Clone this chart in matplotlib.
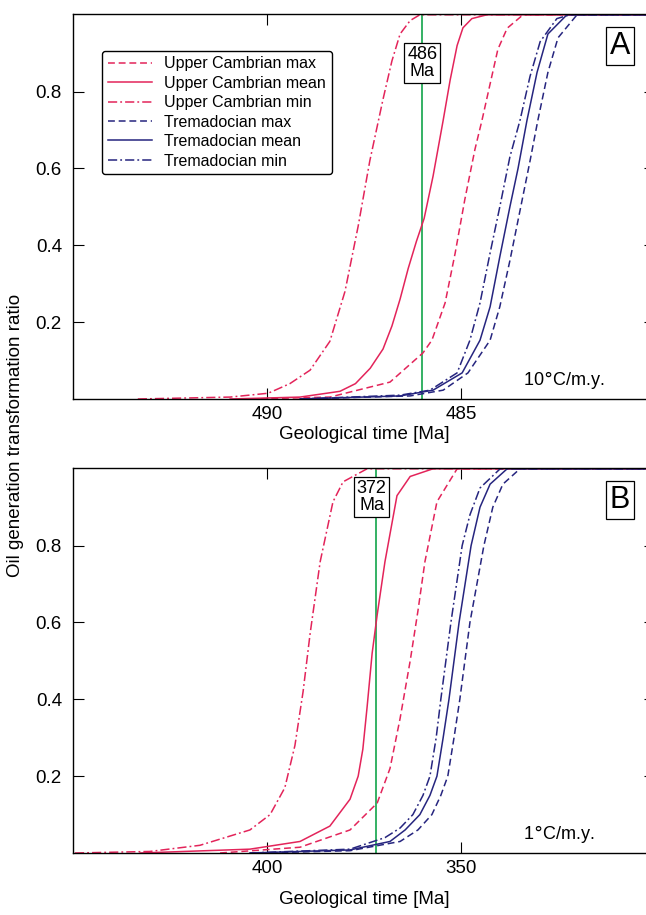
import numpy as np
from matplotlib import pyplot as plt

plt.rcParams['font.family'] = ['Liberation Sans', 'DejaVu Sans']

# ---- panel A (10 C/m.y.) : time [Ma], transformation ratio
a_ucmax_x = [490.44, 488.38, 486.83, 485.98, 485.75, 485.41, 485.15, 484.90, 484.64, 484.46, 484.25, 484.05, 483.81, 483.40, 480.0]
a_ucmax_y = [0, 0.005, 0.044, 0.12, 0.153, 0.25, 0.38, 0.52, 0.65, 0.725, 0.82, 0.91, 0.965, 1.0, 1.0]
a_ucmean_x = [490.95, 489.15, 488.12, 487.72, 487.34, 487.01, 486.78, 486.57, 486.36, 486.15, 485.95, 485.72, 485.46, 485.28, 485.10, 484.95, 484.72, 484.33, 480.0]
a_ucmean_y = [0, 0.005, 0.02, 0.04, 0.08, 0.13, 0.19, 0.26, 0.34, 0.41, 0.47, 0.58, 0.725, 0.83, 0.92, 0.966, 0.99, 1.0, 1.0]
a_ucmin_x = [493.33, 490.95, 489.97, 489.41, 488.89, 488.38, 487.99, 487.65, 487.35, 487.01, 486.78, 486.57, 486.31, 486.06, 480.0]
a_ucmin_y = [0, 0.005, 0.015, 0.04, 0.075, 0.15, 0.28, 0.45, 0.62, 0.78, 0.88, 0.95, 0.985, 1.0, 1.0]
a_trmax_x = [489.15, 486.31, 485.46, 484.82, 484.25, 484.00, 483.74, 483.48, 483.22, 483.02, 482.76, 482.50, 482.01, 480.0]
a_trmax_y = [0, 0.008, 0.023, 0.068, 0.153, 0.24, 0.36, 0.49, 0.62, 0.725, 0.85, 0.94, 1.0, 1.0]
a_trmean_x = [489.15, 486.57, 485.72, 484.97, 484.51, 484.25, 484.00, 483.74, 483.53, 483.30, 483.04, 482.76, 482.27, 480.0]
a_trmean_y = [0, 0.008, 0.023, 0.068, 0.153, 0.24, 0.37, 0.5, 0.6, 0.725, 0.85, 0.95, 1.0, 1.0]
a_trmin_x = [489.15, 486.57, 485.80, 485.10, 484.77, 484.51, 484.25, 484.00, 483.74, 483.48, 483.22, 482.96, 482.53, 482.19, 480.0]
a_trmin_y = [0, 0.01, 0.023, 0.068, 0.153, 0.25, 0.38, 0.5, 0.63, 0.725, 0.84, 0.93, 0.99, 1.0, 1.0]

# ---- panel B (1 C/m.y.)
b_ucmax_x = [412.1, 391.5, 378.6, 371.6, 368.3, 365.7, 363.1, 361.1, 359.3, 356.2, 351.0, 300.0]
b_ucmax_y = [0, 0.015, 0.06, 0.13, 0.22, 0.35, 0.5, 0.63, 0.758, 0.914, 1.0, 1.0]
b_ucmean_x = [432.7, 404.4, 391.5, 383.8, 378.6, 376.5, 375.3, 374.2, 372.9, 371.6, 369.6, 366.5, 363.1, 357.2, 300.0]
b_ucmean_y = [0, 0.01, 0.03, 0.07, 0.14, 0.2, 0.27, 0.38, 0.52, 0.62, 0.758, 0.93, 0.98, 1.0, 1.0]
b_ucmin_x = [449.5, 430.2, 417.3, 404.4, 399.2, 395.4, 392.8, 390.7, 388.9, 386.3, 383.0, 380.4, 374.2, 300.0]
b_ucmin_y = [0, 0.004, 0.02, 0.06, 0.10, 0.17, 0.28, 0.42, 0.57, 0.758, 0.914, 0.966, 1.0, 1.0]
b_trmax_x = [401.8, 378.6, 365.7, 361.1, 357.5, 355.2, 353.4, 351.8, 350.3, 347.7, 344.1, 341.8, 339.2, 334.8, 300.0]
b_trmax_y = [0, 0.006, 0.03, 0.06, 0.1, 0.15, 0.2, 0.3, 0.4, 0.6, 0.8, 0.9, 0.96, 1.0, 1.0]
b_trmean_x = [404.4, 378.6, 368.3, 364.4, 360.6, 358.0, 356.2, 354.6, 353.1, 350.5, 347.4, 345.1, 342.5, 338.1, 300.0]
b_trmean_y = [0, 0.008, 0.03, 0.06, 0.1, 0.15, 0.2, 0.3, 0.4, 0.6, 0.8, 0.9, 0.96, 1.0, 1.0]
b_trmin_x = [404.4, 378.6, 369.6, 365.7, 362.4, 359.8, 358.0, 356.4, 355.2, 352.6, 349.7, 347.7, 345.1, 339.9, 300.0]
b_trmin_y = [0, 0.01, 0.04, 0.065, 0.1, 0.15, 0.2, 0.3, 0.4, 0.6, 0.8, 0.88, 0.95, 1.0, 1.0]

labels = ['Upper Cambrian max', 'Upper Cambrian mean', 'Upper Cambrian min',
          'Tremadocian max', 'Tremadocian mean', 'Tremadocian min']

red = '#e3245a'
navy = '#26257f'
green = '#12a44a'
dash = (0, (4.5, 2.5))
dashdot = (0, (6, 2, 1.2, 2))
styles = [(red, dash), (red, '-'), (red, dashdot), (navy, dash), (navy, '-'), (navy, dashdot)]

W, H = 646, 915
fig = plt.figure(figsize=(W / 100, H / 100), dpi=100)
axA = fig.add_axes([73 / W, 1 - 399 / H, 582 / W, 385 / H])
axB = fig.add_axes([73 / W, 1 - 853 / H, 582 / W, 385 / H])

panels = [
    (axA, [(a_ucmax_x, a_ucmax_y), (a_ucmean_x, a_ucmean_y), (a_ucmin_x, a_ucmin_y),
           (a_trmax_x, a_trmax_y), (a_trmean_x, a_trmean_y), (a_trmin_x, a_trmin_y)],
     (495, 480), [490, 485], 486, 'A', '10$\\degree$C/m.y.', 2),
    (axB, [(b_ucmax_x, b_ucmax_y), (b_ucmean_x, b_ucmean_y), (b_ucmin_x, b_ucmin_y),
           (b_trmax_x, b_trmax_y), (b_trmean_x, b_trmean_y), (b_trmin_x, b_trmin_y)],
     (450, 300), [400, 350], 372, 'B', '1$\\degree$C/m.y.', 10),
]

for ax, series, xlim, xticks, mark, letter, rate, lpad in panels:
    for (x, y), (c, ls), lab in zip(series, styles, labels):
        ax.plot(x, y, color=c, linestyle=ls, lw=1.1, label=lab)
    ax.axvline(mark, color=green, lw=1.2, zorder=1)
    ax.set_xlim(*xlim)
    ax.set_ylim(0, 1.002)
    ax.set_xticks(xticks)
    ax.set_yticks([0.2, 0.4, 0.6, 0.8])
    ax.set_yticklabels(['0.2', '0.4', '0.6', '0.8'])
    ax.tick_params(direction='in', top=True, right=True, length=8, width=0.8,
                   labelsize=13.5)
    ax.tick_params(axis='x', pad=5)
    ax.tick_params(axis='y', pad=8)
    for s in ax.spines.values():
        s.set_linewidth(1.0)
    ax.set_xlabel('Geological time [Ma]', fontsize=13.5, labelpad=lpad)
    ax.text(0.94, 0.917, letter, transform=ax.transAxes, fontsize=22,
            ha='center', va='center',
            bbox=dict(boxstyle='square,pad=0.12', fc='white', ec='black', lw=0.9))
    ax.text(0.773, 0.05, rate, transform=ax.transAxes, fontsize=13, ha='left', va='center')

axA.text(486, 0.875, '486\nMa', fontsize=13, ha='center', va='center', linespacing=1.0,
         bbox=dict(boxstyle='square,pad=0.15', fc='white', ec='black', lw=0.9))
axB.text(373, 0.927, '372\nMa', fontsize=13, ha='center', va='center', linespacing=1.0,
         bbox=dict(boxstyle='square,pad=0.15', fc='white', ec='black', lw=0.9))

leg = axA.legend(loc='upper left', bbox_to_anchor=(0.05, 0.905), borderaxespad=0,
                 fontsize=11.5, handlelength=2.75, handletextpad=0.8, labelspacing=0.28,
                 borderpad=0.35, fancybox=True, framealpha=1, edgecolor='black')
leg.get_frame().set_linewidth(1.0)

fig.text(16 / W, 1 - 435 / H, 'Oil generation transformation ratio', rotation=90,
         fontsize=13.5, ha='center', va='center')

fig.savefig('out.png', dpi=100)
